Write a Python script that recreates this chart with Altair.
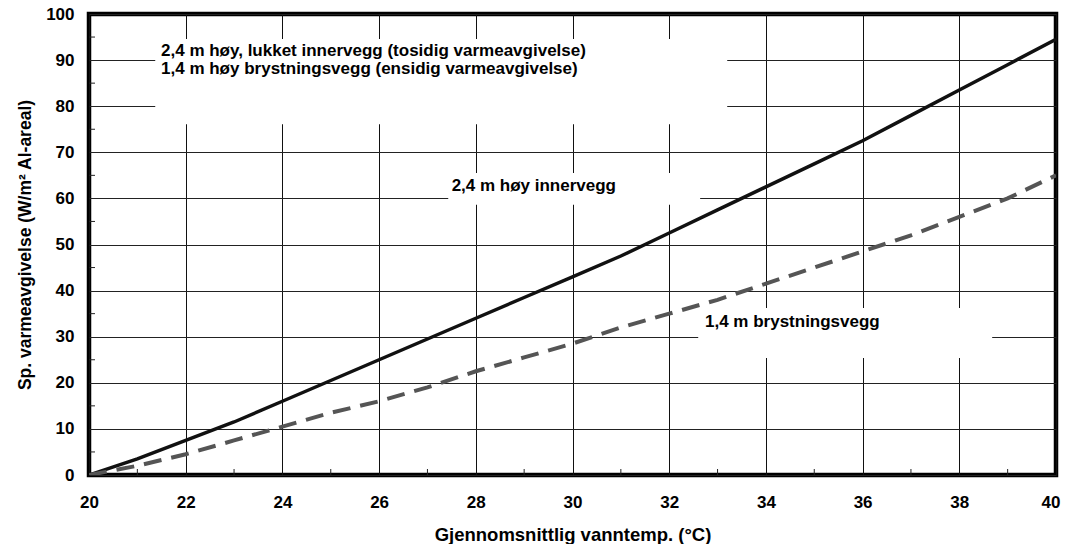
import altair as alt
import pandas as pd

# ---- data ----
temps = [20, 21, 22, 23, 24, 25, 26, 27, 28, 29, 30, 31, 32, 33, 34, 35, 36, 37, 38, 39, 40]
inner_wall = [0, 3.5, 7.5, 11.5, 16, 20.5, 25, 29.5, 34, 38.5, 43, 47.5, 52.5, 57.5, 62.5, 67.5, 72.5, 78, 83.5, 89, 94.5]
parapet_wall = [0, 2, 4.5, 7.5, 10.5, 13.5, 16, 19, 22.5, 25.5, 28.5, 32, 35, 38, 41.5, 45, 48.5, 52, 56, 60, 65]
series_names = ["2,4 m høy innervegg", "1,4 m brystningsvegg"]

x_ticks = [20, 22, 24, 26, 28, 30, 32, 34, 36, 38, 40]
y_ticks = [0, 10, 20, 30, 40, 50, 60, 70, 80, 90, 100]
x_minor = [21, 23, 25, 27, 29, 31, 33, 35, 37, 39]
y_minor = [5, 15, 25, 35, 45, 55, 65, 75, 85, 95]

legend_lines = ["2,4 m høy, lukket innervegg (tosidig varmeavgivelse)",
                "1,4 m høy brystningsvegg (ensidig varmeavgivelse)"]
legend_x = [21.49, 21.49]
legend_y = [91.9, 88.0]

label_x = [27.5, 32.74]
label_y = [62.7, 33.2]

# white boxes behind annotations (data units)
box_x1 = [21.37, 27.43, 32.6]
box_x2 = [33.2, 32.64, 38.68]
box_y1 = [76.1, 58.6, 25.4]
box_y2 = [94.6, 65.5, 36.2]

FONT = "Liberation Sans"

df = pd.DataFrame({
    "t": temps * 2,
    "v": inner_wall + parapet_wall,
    "s": [series_names[0]] * len(temps) + [series_names[1]] * len(temps),
})
df_boxes = pd.DataFrame({"x1": box_x1, "x2": box_x2, "y1": box_y1, "y2": box_y2})
df_leg = pd.DataFrame({"x": legend_x, "y": legend_y, "txt": legend_lines})
df_lab = pd.DataFrame({"x": label_x, "y": label_y, "txt": series_names})
df_xm = pd.DataFrame({"x": x_minor})
df_ym = pd.DataFrame({"y": y_minor})

xs = alt.Scale(domain=[20, 40], nice=False, zero=False)
ys = alt.Scale(domain=[0, 100], nice=False)

x_axis = alt.Axis(values=x_ticks, grid=True, gridColor="#111", gridWidth=1, domain=False,
                  ticks=False, labelFlush=False,
                  labelAlign={"expr": "datum.value == 40 ? 'right' : 'center'"},
                  labelOffset={"expr": "datum.value == 40 ? 4 : 0"},
                  labelFont=FONT, labelFontSize=17,
                  labelFontWeight="bold", labelColor="#000", labelPadding=19,
                  title="Gjennomsnittlig vanntemp. (°C)",
                  titleFont=FONT, titleFontSize=18.5, titleFontWeight="bold", titleColor="#000",
                  titlePadding=15)
y_axis = alt.Axis(values=y_ticks, grid=True, gridColor="#222", gridWidth=1, domain=False,
                  ticks=False, labelFlush=False, labelFont=FONT, labelFontSize=17,
                  labelFontWeight="bold", labelColor="#000", labelPadding=15,
                  title="Sp. varmeavgivelse (W/m² Al-areal)",
                  titleFont=FONT, titleFontSize=17.5, titleFontWeight="bold", titleColor="#000",
                  titlePadding=11)

base_lines = alt.Chart(df).encode(
    x=alt.X("t:Q", scale=xs, axis=x_axis),
    y=alt.Y("v:Q", scale=ys, axis=y_axis),
)

solid = base_lines.transform_filter(alt.datum.s == series_names[0]).mark_line(
    color="#111", strokeWidth=3.5, clip=True)
dashed = base_lines.transform_filter(alt.datum.s == series_names[1]).mark_line(
    color="#555", strokeWidth=4, strokeDash=[18, 10], clip=True)

boxes = alt.Chart(df_boxes).mark_rect(color="white").encode(
    x=alt.X("x1:Q", scale=xs), x2="x2:Q",
    y=alt.Y("y1:Q", scale=ys), y2="y2:Q")

xminor = alt.Chart(df_xm).mark_rule(color="#222", strokeWidth=1).encode(
    x=alt.X("x:Q", scale=xs), y=alt.value(461), y2=alt.value(455))
yminor = alt.Chart(df_ym).mark_rule(color="#222", strokeWidth=1).encode(
    y=alt.Y("y:Q", scale=ys), x=alt.value(0), x2=alt.value(6))

leg = alt.Chart(df_leg).mark_text(align="left", baseline="middle", font=FONT, fontSize=17,
                                  fontWeight="bold", color="#000").encode(
    x=alt.X("x:Q", scale=xs), y=alt.Y("y:Q", scale=ys), text="txt:N")
lab = alt.Chart(df_lab).mark_text(align="left", baseline="middle", font=FONT, fontSize=17,
                                  fontWeight="bold", color="#000").encode(
    x=alt.X("x:Q", scale=xs), y=alt.Y("y:Q", scale=ys), text="txt:N")

chart = alt.layer(solid, dashed, boxes, xminor, yminor, leg, lab).properties(
    width=967, height=461,
    autosize=alt.AutoSizeParams(type="none"),
    padding={"left": 81, "top": 6, "right": 5, "bottom": 69},
    background="white",
).configure_view(stroke="#000", strokeWidth=4.5)

chart.save("out.html", embed_options={"renderer": "svg", "actions": False})
